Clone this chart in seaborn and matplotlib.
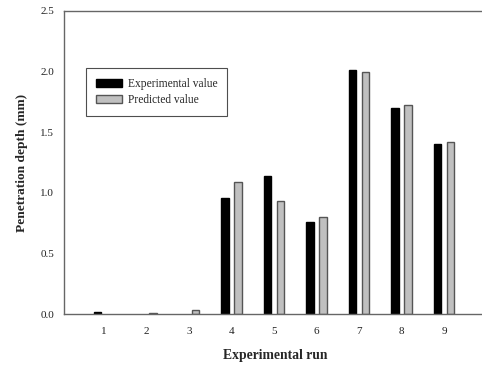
import matplotlib
matplotlib.use("Agg")
import matplotlib.pyplot as plt
from matplotlib.patches import Patch
import seaborn as sns
import pandas as pd

runs = [1, 2, 3, 4, 5, 6, 7, 8, 9]
experimental = [0.015, 0.0, 0.0, 0.954, 1.141, 0.762, 2.013, 1.702, 1.403]
predicted = [0.0, 0.008, 0.03, 1.086, 0.932, 0.798, 1.994, 1.722, 1.419]
series_names = ["Experimental value", "Predicted value"]
y_ticks = [0.0, 0.5, 1.0, 1.5, 2.0, 2.5]

fill_colors = {"Experimental value": "#000000", "Predicted value": "#c0c0c0"}
edge_colors = {"Experimental value": "#000000", "Predicted value": "#555555"}

df = pd.DataFrame({
    "run": runs * 2,
    "depth": experimental + predicted,
    "series": [series_names[0]] * len(runs) + [series_names[1]] * len(runs),
})

sns.set_style("white")
plt.rcParams["font.family"] = ["Liberation Serif", "DejaVu Serif"]

fig = plt.figure(figsize=(4.82, 3.67), dpi=100)
ax = fig.add_axes([64 / 482, 53 / 367, 422.5 / 482, 303 / 367])

sns.barplot(
    data=df, x="run", y="depth", hue="series", hue_order=series_names,
    palette=fill_colors, native_scale=True, width=0.6, gap=0.4,
    legend=False, ax=ax, linewidth=1.0,
)
# outline each series in its own edge colour; empty bars get no outline
for container, name in zip(ax.containers, series_names):
    for bar in container:
        bar.set_edgecolor(edge_colors[name])
        if bar.get_height() == 0:
            bar.set_linewidth(0)

ax.set_xlim(0.06, 10.0)
ax.set_ylim(0, 2.5)
ax.set_xticks(runs)
ax.set_xticklabels([str(r) for r in runs])
ax.set_yticks(y_ticks)
ax.set_yticklabels([f"{t:.1f}" for t in y_ticks])

spine_color = "#666666"
for side in ["left", "bottom", "top"]:
    ax.spines[side].set_color(spine_color)
    ax.spines[side].set_linewidth(1.0)
ax.spines["right"].set_visible(False)

ax.tick_params(axis="both", which="major", direction="out", length=4, width=1,
               color=spine_color, labelsize=8, labelcolor="#222222", pad=5)
ax.tick_params(axis="y", pad=3)

ax.set_xlabel("Experimental run", fontsize=9.8, fontweight="bold", labelpad=10)
ax.set_ylabel("Penetration depth (mm)", fontsize=9.6, fontweight="bold", labelpad=9)

handles = [Patch(facecolor=fill_colors[n], edgecolor=edge_colors[n], linewidth=1.0)
           for n in series_names]
leg = ax.legend(handles, series_names, loc="upper left",
                bbox_to_anchor=(0.052, 0.812), fontsize=8.3, frameon=True,
                fancybox=False, handlelength=2.3, handleheight=0.75,
                borderpad=0.85, labelspacing=0.35, handletextpad=0.5,
                borderaxespad=0)
leg.get_frame().set_edgecolor("#222222")
leg.get_frame().set_linewidth(0.8)

fig.savefig("out.png", dpi=100)
